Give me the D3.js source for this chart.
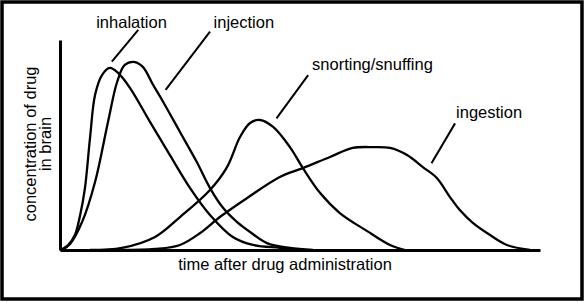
<!DOCTYPE html>
<html>
<head>
<meta charset="utf-8">
<script src="https://cdn.jsdelivr.net/npm/d3@7"></script>
<style>
  body { margin: 0; background: #fff; }
  text { font-family: "Liberation Sans", Arial, sans-serif; fill: #000; }
</style>
</head>
<body>
<script>
// DATA (time and concentration in arbitrary units, 0-100)
var inhalationTime = [0, 1.7, 3.1, 4.2, 5.2, 6.25, 7.3, 8.75, 10.4, 12.1, 14.6, 18.75, 22.9, 27.1, 31.25, 36, 40.2, 45.8, 50];
var inhalationConc = [0, 2.4, 7.1, 16.7, 29.5, 53.3, 73.8, 83.3, 86.7, 84.3, 77.1, 61, 45.2, 29.5, 16.7, 6.2, 2.4, 1, 0];

var injectionTime = [0.4, 2.1, 4.6, 7.3, 10, 11.9, 13.5, 15.6, 17.3, 19.4, 21.5, 25, 28.5, 31.25, 34, 36.9, 39.6, 43.1, 47.9, 52.7];
var injectionConc = [0, 2.9, 13.3, 32.4, 61, 80, 88.1, 89.5, 87.1, 78.6, 70.5, 56.2, 41.9, 29.5, 20, 13.3, 8.6, 3.3, 1, 0];

var snortingTime = [6.25, 12.9, 19.8, 25, 31.25, 34.8, 37.5, 39.6, 41.7, 44.4, 47.9, 50.6, 54.2, 58.3, 64, 68.75, 71.9];
var snortingConc = [0, 1, 6.2, 15.7, 28.6, 39.5, 53.8, 60.5, 61.9, 58.6, 49, 39, 27.1, 17.6, 9, 2.4, 0];

var ingestionTime = [12.5, 19.8, 25, 29.2, 33.3, 39, 45.8, 50.6, 56.25, 61, 65.2, 68.75, 72.3, 75.6, 78.5, 81.25, 83.3, 86, 89.6, 93.1, 97.9];
var ingestionConc = [0, 0.5, 2.4, 8.1, 15.7, 24.8, 34.8, 39, 44.3, 48.6, 49, 48.6, 45.2, 39.5, 34.3, 25.2, 19, 12.9, 7.1, 2.4, 0];

var routes = ["inhalation", "injection", "snorting/snuffing", "ingestion"];
// label centre and leader line ends, in data units
var labelTime = [14.9, 38.3, 65.1, 89.4];
var labelConc = [105.7, 105.7, 85.7, 62.9];
var leaderTime = [[16.3, 10.8], [31.25, 22], [51.7, 45.1], [82.3, 77.4]];
var leaderConc = [[104.8, 89.7], [104, 76.2], [83.3, 62.7], [60.3, 41.3]];

var series = [
  {name: routes[0], t: inhalationTime, c: inhalationConc},
  {name: routes[1], t: injectionTime, c: injectionConc},
  {name: routes[2], t: snortingTime, c: snortingConc},
  {name: routes[3], t: ingestionTime, c: ingestionConc}
];

// D3
var svg = d3.select("body")
    .append("svg")
    .attr("width", 588)
    .attr("height", 303);

svg.append("rect")
    .attr("x", 2).attr("y", 2)
    .attr("width", 580).attr("height", 297)
    .attr("fill", "#fff")
    .attr("stroke", "#000")
    .attr("stroke-width", 3.5);

const margin = {top: 40, right: 48, bottom: 53, left: 60};
const width = 588 - margin.left - margin.right;
const height = 303 - margin.top - margin.bottom;

const xScale = d3.scaleLinear().domain([0, 100]).range([0, width]);
const yScale = d3.scaleLinear().domain([0, 100]).range([height, 0]);

const g = svg.append("g")
    .attr("transform", "translate(" + margin.left + "," + margin.top + ")");

// axes: plain lines, no ticks
g.append("g")
    .attr("transform", "translate(0," + height + ")")
    .call(d3.axisBottom(xScale).tickValues([]).tickSizeOuter(0))
    .select(".domain").attr("stroke-width", 3);

g.append("g")
    .call(d3.axisLeft(yScale).tickValues([]).tickSizeOuter(0))
    .select(".domain").attr("stroke-width", 3);

// curves
const line = d3.line()
    .x(function(d) { return xScale(d[0]); })
    .y(function(d) { return yScale(d[1]); })
    .curve(d3.curveCatmullRom.alpha(0.5));

g.selectAll(".curve").data(series)
    .enter()
    .append("path")
    .attr("class", "curve")
    .attr("d", function(s) { return line(s.t.map(function(t, i) { return [t, s.c[i]]; })); })
    .attr("fill", "none")
    .attr("stroke", "#000")
    .attr("stroke-width", 2.3)
    .attr("stroke-linejoin", "round");

// labels with leader lines
g.selectAll(".leader").data(routes)
    .enter()
    .append("line")
    .attr("class", "leader")
    .attr("x1", function(d, i) { return xScale(leaderTime[i][0]); })
    .attr("y1", function(d, i) { return yScale(leaderConc[i][0]); })
    .attr("x2", function(d, i) { return xScale(leaderTime[i][1]); })
    .attr("y2", function(d, i) { return yScale(leaderConc[i][1]); })
    .attr("stroke", "#000")
    .attr("stroke-width", 2);

g.selectAll(".route").data(routes)
    .enter()
    .append("text")
    .attr("class", "route")
    .attr("x", function(d, i) { return xScale(labelTime[i]); })
    .attr("y", function(d, i) { return yScale(labelConc[i]); })
    .attr("text-anchor", "middle")
    .style("font-size", "16.5px")
    .text(function(d) { return d; });

// axis titles
svg.append("text")
    .attr("x", 285)
    .attr("y", 270)
    .attr("text-anchor", "middle")
    .style("font-size", "16.5px")
    .text("time after drug administration");

svg.selectAll(".ytitle").data(["concentration of drug", "in brain"])
    .enter()
    .append("text")
    .attr("class", "ytitle")
    .attr("transform", function(d, i) { return "translate(" + (36 + i * 15) + ",144) rotate(-90)"; })
    .attr("text-anchor", "middle")
    .style("font-size", "16.5px")
    .text(function(d) { return d; });
</script>
</body>
</html>
